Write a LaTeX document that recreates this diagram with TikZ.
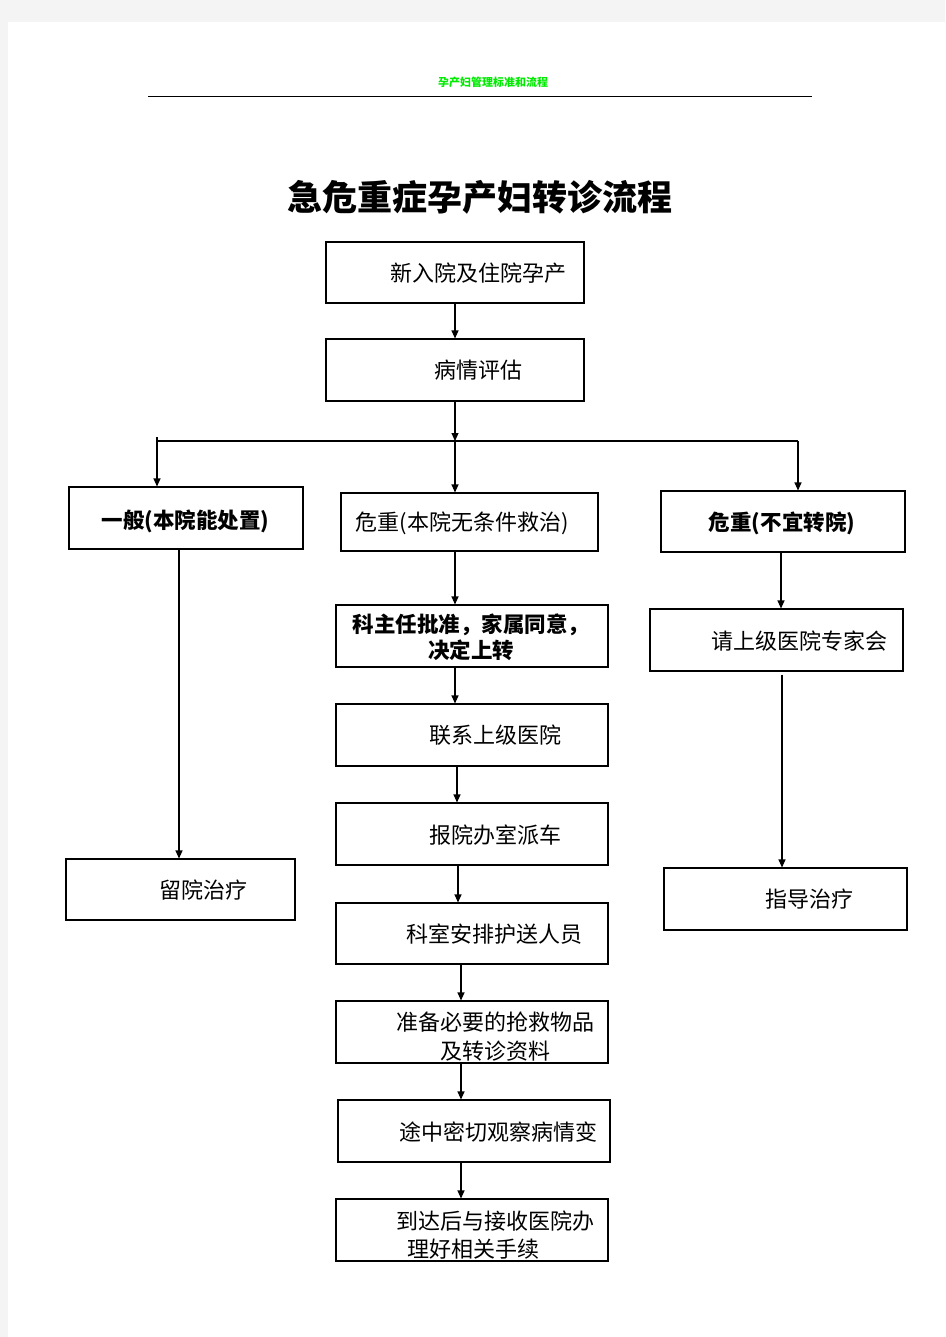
\documentclass[tikz,border=0pt]{standalone}
\usepackage{fontspec}
\newfontfamily\cjk{Noto Sans CJK SC}
\usetikzlibrary{arrows.meta}
\definecolor{pagegray}{HTML}{F4F4F4}
\definecolor{hdgreen}{RGB}{0,235,0}
\tikzset{
  box/.style={draw=black, line width=1.1pt, rectangle, inner sep=0pt},
  arr/.style={draw=black, line width=1.1pt, -{Triangle[length=8pt,width=7pt]}},
  conn/.style={draw=black, line width=1.1pt},
  txt/.style={font=\cjk\fontsize{22}{26}\selectfont, inner sep=0pt, anchor=center},
  btxt/.style={font=\cjk\bfseries\fontsize{21.5}{26}\selectfont, inner sep=0pt, anchor=center, align=center},
}
\begin{document}
\begin{tikzpicture}[x=1pt,y=-1pt]
\useasboundingbox (0,0) rectangle (945,1337);
\fill[pagegray] (0,0) rectangle (945,1337);
\fill[white] (8,22) rectangle (945,1337);
% header
\node[font=\cjk\bfseries\fontsize{11}{12}\selectfont, text=hdgreen, inner sep=0pt] (hdr) at (493,82) {孕产妇管理标准和流程};
\coordinate (hl1) at (148,97);
\coordinate (hl2) at (812,97);
\draw[line width=1pt] (hl1) -- (hl2);
% title
\node[font=\cjk\bfseries\fontsize{35}{40}\selectfont, inner sep=0pt] (title) at (480,197) {急危重症孕产妇转诊流程};
% boxes
\node[box, minimum width=258pt, minimum height=61pt] (b1) at (455,272.5) {};
\node[box, minimum width=258pt, minimum height=62pt] (b2) at (455,370) {};
\node[box, minimum width=234pt, minimum height=62pt] (b3) at (186,518) {};
\node[box, minimum width=257pt, minimum height=58pt] (b4) at (469.5,522) {};
\node[box, minimum width=244pt, minimum height=61pt] (b5) at (783,521.5) {};
\node[box, minimum width=229pt, minimum height=61pt] (b6) at (180.5,889.5) {};
\node[box, minimum width=272pt, minimum height=62pt] (b7) at (472,636) {};
\node[box, minimum width=272pt, minimum height=62pt] (b8) at (472,735) {};
\node[box, minimum width=272pt, minimum height=62pt] (b9) at (472,834) {};
\node[box, minimum width=272pt, minimum height=61pt] (b10) at (472,933.5) {};
\node[box, minimum width=272pt, minimum height=62pt] (b11) at (472,1032) {};
\node[box, minimum width=272pt, minimum height=62pt] (b12) at (474,1131) {};
\node[box, minimum width=272pt, minimum height=62pt] (b13) at (472,1230) {};
\node[box, minimum width=253pt, minimum height=62pt] (b14) at (776.5,640) {};
\node[box, minimum width=243pt, minimum height=62pt] (b15) at (785.5,899) {};
% texts
\node[txt] (t1) at (478,273) {新入院及住院孕产};
\node[txt] (t2) at (478,370) {病情评估};
\node[btxt] (t3) at (185.5,521) {一般(本院能处置)};
\node[txt] (t4) at (462,523) {危重(本院无条件救治)};
\node[btxt] (t5) at (782,523) {危重(不宜转院)};
\node[txt] (t6) at (203.5,890) {留院治疗};
\node[btxt] (t7) at (471,637) {科主任批准，家属同意，\\决定上转};
\node[txt] (t8) at (495,735) {联系上级医院};
\node[txt] (t9) at (495,835) {报院办室派车};
\node[txt] (t10) at (494.5,934) {科室安排护送人员};
\node[txt] (t11a) at (495,1022) {准备必要的抢救物品};
\node[txt] (t11b) at (495,1051) {及转诊资料};
\node[txt] (t12) at (498,1132) {途中密切观察病情变};
\node[txt] (t13a) at (495,1221) {到达后与接收医院办};
\node[txt] (t13b) at (473.5,1249) {理好相关手续};
\node[txt] (t14) at (799.5,641) {请上级医院专家会};
\node[txt] (t15) at (809,899) {指导治疗};
% connectors
\coordinate (j) at (455,441);
\coordinate (hL) at (157,441);
\coordinate (hLtop) at (157,437);
\coordinate (hR) at (798,441);
\draw[arr] (b1.south) -- (b2.north);
\draw[arr] (b2.south) -- (j);
\draw[conn] (hL) -- (hR);
\draw[arr] (hLtop) -- ([xshift=-29pt]b3.north);
\draw[arr] (j) -- ([xshift=-14.5pt]b4.north);
\draw[arr] (hR) -- ([xshift=15pt]b5.north);
\draw[arr] ([xshift=-7pt]b3.south) -- ([xshift=-1.5pt]b6.north);
\draw[arr] ([xshift=-14.5pt]b4.south) -- ([xshift=-17pt]b7.north);
\draw[arr] ([xshift=-17pt]b7.south) -- ([xshift=-17pt]b8.north);
\draw[arr] ([xshift=-15pt]b8.south) -- ([xshift=-15pt]b9.north);
\draw[arr] ([xshift=-14pt]b9.south) -- ([xshift=-14pt]b10.north);
\draw[arr] ([xshift=-11pt]b10.south) -- ([xshift=-11pt]b11.north);
\draw[arr] ([xshift=-11pt]b11.south) -- ([xshift=-13pt]b12.north);
\draw[arr] ([xshift=-13pt]b12.south) -- ([xshift=-11pt]b13.north);
\draw[arr] ([xshift=-2pt]b5.south) -- ([xshift=4.5pt]b14.north);
\draw[arr] ([xshift=5.5pt,yshift=-3pt]b14.south) -- ([xshift=-3.5pt]b15.north);
\end{tikzpicture}
\end{document}
